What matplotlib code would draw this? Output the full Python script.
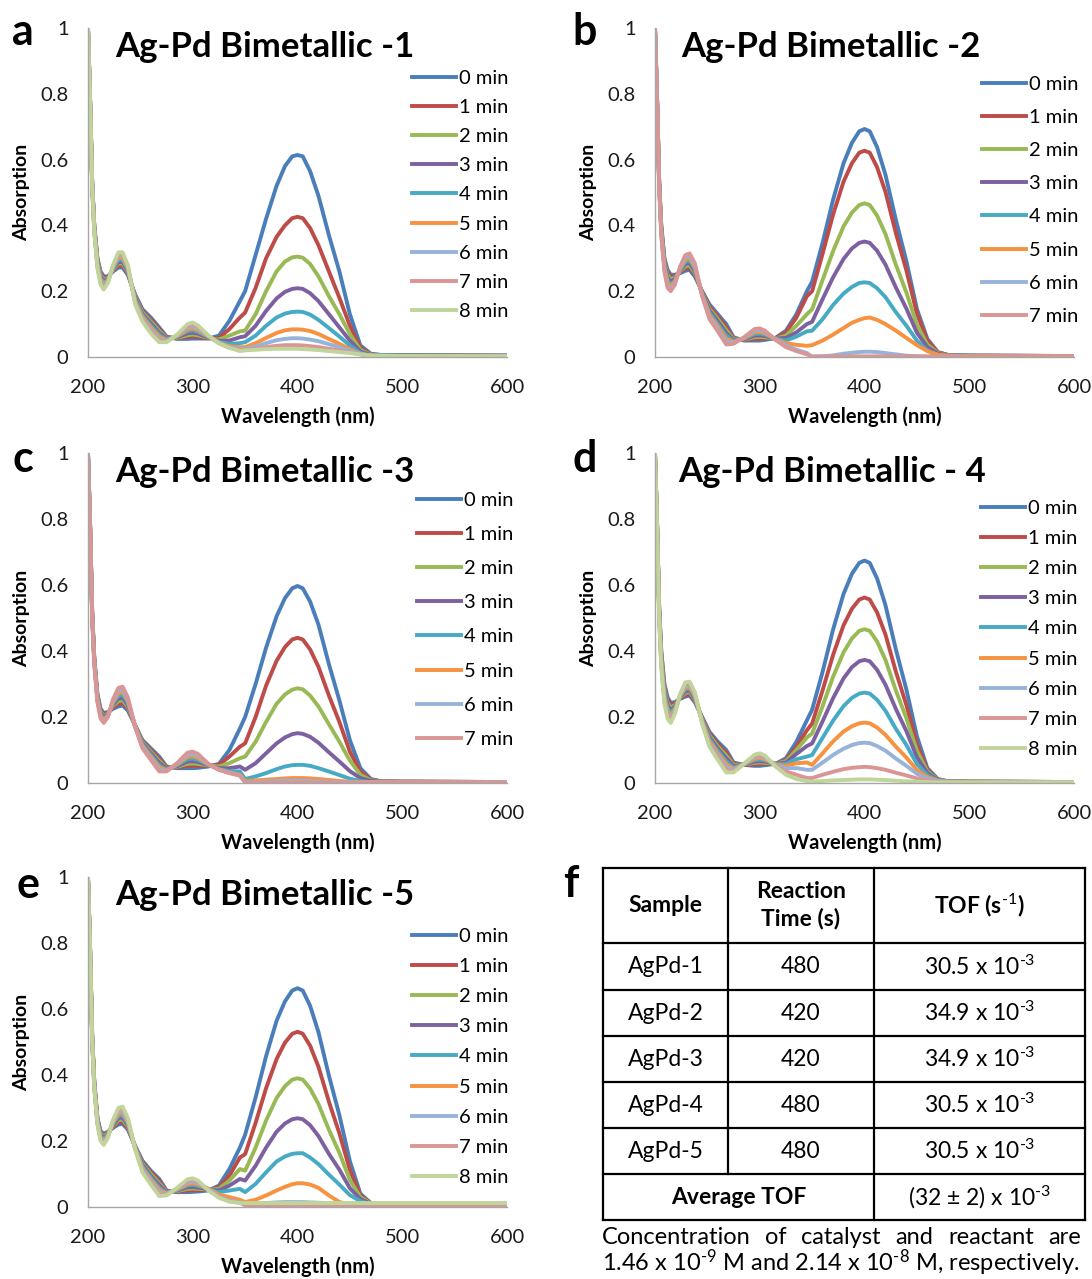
import matplotlib
matplotlib.use("Agg")
import matplotlib.pyplot as plt

plt.rcParams["font.family"] = ["Lato", "DejaVu Sans"]
plt.rcParams["mathtext.fontset"] = "custom"
plt.rcParams["mathtext.rm"] = "Lato"
plt.rcParams["mathtext.bf"] = "Lato:bold"
plt.rcParams["mathtext.it"] = "Lato:italic"

# wavelength grids (nm): UV part below the lamp switch, visible part above
WL_UV = [200, 202, 204, 206, 209, 212, 215, 219, 224, 229, 233, 238, 245,
         252, 260, 268, 275, 285, 295, 300, 305, 315, 325, 335, 345]
WL_VIS = [350, 360, 370, 380, 388, 395, 400, 405, 412, 420, 430, 440, 450,
          460, 470, 480, 500, 600]

# ---- Ag-Pd Bimetallic -1 (0..8 min)
P1_UV = [
    [1.0, 0.78, 0.53, 0.40, 0.30, 0.26, 0.245, 0.245, 0.26, 0.272, 0.272, 0.25, 0.19, 0.145, 0.12, 0.09, 0.062, 0.055, 0.055, 0.056, 0.056, 0.056, 0.065, 0.11, 0.17],
    [1.0, 0.78, 0.53, 0.398, 0.296, 0.255, 0.24, 0.243, 0.263, 0.278, 0.278, 0.254, 0.186, 0.14, 0.114, 0.084, 0.06, 0.057, 0.061, 0.062, 0.061, 0.057, 0.058, 0.085, 0.12],
    [1.0, 0.78, 0.53, 0.395, 0.293, 0.25, 0.235, 0.24, 0.265, 0.284, 0.284, 0.258, 0.183, 0.136, 0.108, 0.079, 0.058, 0.058, 0.066, 0.068, 0.066, 0.058, 0.053, 0.065, 0.078],
    [1.0, 0.78, 0.53, 0.393, 0.289, 0.245, 0.23, 0.238, 0.268, 0.289, 0.289, 0.261, 0.179, 0.131, 0.102, 0.073, 0.056, 0.06, 0.072, 0.074, 0.071, 0.059, 0.049, 0.05, 0.06],
    [1.0, 0.78, 0.52, 0.39, 0.285, 0.24, 0.225, 0.235, 0.27, 0.295, 0.295, 0.265, 0.175, 0.127, 0.096, 0.068, 0.054, 0.062, 0.078, 0.081, 0.076, 0.061, 0.046, 0.04, 0.042],
    [1.0, 0.78, 0.52, 0.388, 0.281, 0.235, 0.22, 0.233, 0.273, 0.301, 0.301, 0.269, 0.171, 0.122, 0.09, 0.062, 0.051, 0.063, 0.083, 0.087, 0.081, 0.062, 0.044, 0.033, 0.03],
    [1.0, 0.78, 0.52, 0.385, 0.278, 0.23, 0.215, 0.23, 0.275, 0.307, 0.307, 0.273, 0.168, 0.117, 0.084, 0.056, 0.049, 0.065, 0.089, 0.093, 0.086, 0.063, 0.043, 0.03, 0.025],
    [1.0, 0.78, 0.52, 0.383, 0.274, 0.225, 0.21, 0.228, 0.278, 0.312, 0.312, 0.276, 0.164, 0.113, 0.078, 0.051, 0.047, 0.066, 0.094, 0.099, 0.091, 0.064, 0.042, 0.028, 0.022],
    [1.0, 0.78, 0.52, 0.38, 0.27, 0.22, 0.205, 0.225, 0.28, 0.318, 0.318, 0.28, 0.16, 0.108, 0.072, 0.045, 0.045, 0.068, 0.1, 0.105, 0.096, 0.065, 0.042, 0.028, 0.018],
]
P1_VIS = [
    [0.20, 0.31, 0.42, 0.52, 0.58, 0.61, 0.614, 0.61, 0.565, 0.49, 0.37, 0.26, 0.13, 0.035, 0.01, 0.006, 0.005, 0.004],
    [0.135, 0.21, 0.30, 0.365, 0.40, 0.422, 0.426, 0.422, 0.392, 0.34, 0.26, 0.18, 0.095, 0.028, 0.008, 0.006, 0.005, 0.004],
    [0.08, 0.13, 0.20, 0.26, 0.29, 0.303, 0.305, 0.302, 0.283, 0.245, 0.185, 0.13, 0.07, 0.022, 0.007, 0.006, 0.005, 0.004],
    [0.063, 0.095, 0.14, 0.178, 0.198, 0.207, 0.209, 0.207, 0.194, 0.17, 0.13, 0.09, 0.05, 0.017, 0.006, 0.005, 0.005, 0.004],
    [0.045, 0.065, 0.095, 0.12, 0.132, 0.137, 0.138, 0.137, 0.129, 0.113, 0.088, 0.062, 0.035, 0.013, 0.005, 0.005, 0.004, 0.004],
    [0.03, 0.042, 0.058, 0.073, 0.081, 0.084, 0.084, 0.083, 0.079, 0.07, 0.055, 0.04, 0.024, 0.01, 0.004, 0.003, 0.003, 0.002],
    [0.025, 0.032, 0.042, 0.051, 0.055, 0.057, 0.057, 0.056, 0.053, 0.048, 0.039, 0.03, 0.019, 0.009, 0.004, 0.003, 0.003, 0.002],
    [0.022, 0.026, 0.03, 0.034, 0.036, 0.036, 0.036, 0.035, 0.033, 0.03, 0.025, 0.02, 0.014, 0.008, 0.004, 0.003, 0.003, 0.002],
    [0.02, 0.022, 0.024, 0.025, 0.025, 0.025, 0.025, 0.024, 0.023, 0.021, 0.018, 0.015, 0.012, 0.008, 0.005, 0.004, 0.003, 0.002],
]

# ---- Ag-Pd Bimetallic -2 (0..7 min)
P2_UV = [
    [1.0, 0.78, 0.53, 0.40, 0.30, 0.265, 0.25, 0.25, 0.255, 0.262, 0.265, 0.245, 0.2, 0.16, 0.13, 0.1, 0.06, 0.05, 0.05, 0.05, 0.052, 0.058, 0.08, 0.13, 0.2],
    [1.0, 0.78, 0.53, 0.396, 0.294, 0.257, 0.243, 0.246, 0.258, 0.269, 0.272, 0.251, 0.198, 0.154, 0.123, 0.091, 0.057, 0.051, 0.055, 0.055, 0.056, 0.057, 0.075, 0.12, 0.185],
    [1.0, 0.78, 0.53, 0.391, 0.289, 0.249, 0.236, 0.241, 0.261, 0.276, 0.279, 0.256, 0.196, 0.147, 0.115, 0.082, 0.054, 0.053, 0.06, 0.061, 0.06, 0.056, 0.065, 0.095, 0.13],
    [1.0, 0.78, 0.53, 0.387, 0.283, 0.241, 0.229, 0.237, 0.264, 0.283, 0.286, 0.262, 0.194, 0.141, 0.108, 0.073, 0.051, 0.054, 0.065, 0.066, 0.064, 0.056, 0.058, 0.075, 0.1],
    [1.0, 0.78, 0.52, 0.383, 0.277, 0.234, 0.221, 0.233, 0.266, 0.289, 0.294, 0.268, 0.191, 0.134, 0.1, 0.065, 0.049, 0.056, 0.07, 0.071, 0.068, 0.055, 0.05, 0.062, 0.078],
    [1.0, 0.78, 0.52, 0.379, 0.271, 0.226, 0.214, 0.229, 0.269, 0.296, 0.301, 0.274, 0.189, 0.128, 0.093, 0.056, 0.046, 0.057, 0.075, 0.076, 0.072, 0.055, 0.042, 0.037, 0.034],
    [1.0, 0.78, 0.52, 0.374, 0.266, 0.218, 0.207, 0.224, 0.272, 0.303, 0.308, 0.279, 0.187, 0.121, 0.085, 0.047, 0.043, 0.059, 0.08, 0.082, 0.076, 0.054, 0.035, 0.022, 0.012],
    [1.0, 0.78, 0.52, 0.37, 0.26, 0.21, 0.2, 0.22, 0.275, 0.31, 0.315, 0.285, 0.185, 0.115, 0.078, 0.038, 0.04, 0.06, 0.085, 0.087, 0.08, 0.052, 0.03, 0.018, 0.008],
]
P2_VIS = [
    [0.229, 0.347, 0.478, 0.589, 0.651, 0.686, 0.693, 0.686, 0.638, 0.554, 0.416, 0.291, 0.146, 0.055, 0.015, 0.006, 0.004, 0.003],
    [0.2, 0.314, 0.433, 0.533, 0.589, 0.621, 0.627, 0.621, 0.577, 0.502, 0.376, 0.263, 0.132, 0.05, 0.014, 0.006, 0.004, 0.003],
    [0.145, 0.234, 0.322, 0.397, 0.439, 0.462, 0.467, 0.462, 0.43, 0.374, 0.28, 0.196, 0.098, 0.038, 0.012, 0.005, 0.004, 0.003],
    [0.107, 0.176, 0.242, 0.298, 0.33, 0.347, 0.351, 0.347, 0.323, 0.281, 0.211, 0.147, 0.074, 0.03, 0.01, 0.005, 0.004, 0.003],
    [0.08, 0.115, 0.158, 0.193, 0.213, 0.225, 0.227, 0.225, 0.209, 0.182, 0.136, 0.095, 0.05, 0.02, 0.007, 0.005, 0.004, 0.003],
    [0.036, 0.05, 0.068, 0.088, 0.104, 0.113, 0.118, 0.12, 0.113, 0.1, 0.08, 0.058, 0.036, 0.018, 0.007, 0.004, 0.003, 0.003],
    [0.0, 0.002, 0.005, 0.01, 0.013, 0.015, 0.016, 0.016, 0.015, 0.012, 0.008, 0.004, 0.002, 0.001, 0.001, 0.001, 0.001, 0.001],
    [0.002, 0.002, 0.002, 0.002, 0.002, 0.002, 0.002, 0.002, 0.002, 0.002, 0.002, 0.002, 0.002, 0.002, 0.002, 0.002, 0.002, 0.002],
]

# ---- Ag-Pd Bimetallic -3 (0..7 min)
P3_UV = [
    [1.0, 0.78, 0.52, 0.38, 0.27, 0.225, 0.212, 0.215, 0.225, 0.232, 0.235, 0.22, 0.175, 0.13, 0.105, 0.08, 0.05, 0.045, 0.045, 0.045, 0.046, 0.05, 0.058, 0.1, 0.165],
    [1.0, 0.78, 0.52, 0.377, 0.266, 0.221, 0.208, 0.213, 0.229, 0.24, 0.243, 0.226, 0.174, 0.126, 0.1, 0.074, 0.048, 0.047, 0.052, 0.052, 0.052, 0.052, 0.055, 0.08, 0.11],
    [1.0, 0.78, 0.51, 0.374, 0.263, 0.216, 0.203, 0.211, 0.234, 0.248, 0.251, 0.231, 0.174, 0.123, 0.095, 0.067, 0.046, 0.049, 0.058, 0.059, 0.058, 0.053, 0.05, 0.06, 0.075],
    [1.0, 0.78, 0.51, 0.371, 0.259, 0.212, 0.199, 0.209, 0.238, 0.256, 0.259, 0.237, 0.173, 0.119, 0.09, 0.061, 0.044, 0.051, 0.065, 0.066, 0.064, 0.054, 0.045, 0.045, 0.05],
    [1.0, 0.78, 0.51, 0.369, 0.256, 0.208, 0.195, 0.206, 0.242, 0.264, 0.268, 0.243, 0.172, 0.116, 0.085, 0.054, 0.041, 0.054, 0.072, 0.074, 0.07, 0.055, 0.042, 0.036, 0.035],
    [1.0, 0.78, 0.51, 0.366, 0.252, 0.204, 0.191, 0.204, 0.246, 0.272, 0.276, 0.249, 0.171, 0.112, 0.08, 0.048, 0.039, 0.056, 0.079, 0.081, 0.076, 0.056, 0.041, 0.032, 0.025],
    [1.0, 0.78, 0.5, 0.363, 0.249, 0.199, 0.186, 0.202, 0.251, 0.28, 0.284, 0.254, 0.171, 0.109, 0.075, 0.041, 0.037, 0.058, 0.085, 0.088, 0.082, 0.057, 0.04, 0.031, 0.023],
    [1.0, 0.78, 0.5, 0.36, 0.245, 0.195, 0.182, 0.2, 0.255, 0.288, 0.292, 0.26, 0.17, 0.105, 0.07, 0.035, 0.035, 0.06, 0.092, 0.095, 0.088, 0.058, 0.04, 0.03, 0.022],
]
P3_VIS = [
    [0.2, 0.3, 0.41, 0.505, 0.56, 0.59, 0.597, 0.59, 0.55, 0.48, 0.36, 0.25, 0.13, 0.045, 0.012, 0.005, 0.004, 0.003],
    [0.12, 0.2, 0.295, 0.37, 0.412, 0.435, 0.44, 0.435, 0.405, 0.352, 0.265, 0.185, 0.095, 0.035, 0.01, 0.005, 0.004, 0.003],
    [0.08, 0.125, 0.185, 0.24, 0.268, 0.283, 0.287, 0.284, 0.265, 0.232, 0.178, 0.125, 0.068, 0.025, 0.008, 0.005, 0.004, 0.003],
    [0.04, 0.06, 0.09, 0.12, 0.138, 0.148, 0.151, 0.149, 0.14, 0.122, 0.093, 0.065, 0.036, 0.015, 0.006, 0.004, 0.004, 0.003],
    [0.012, 0.02, 0.03, 0.042, 0.05, 0.054, 0.055, 0.055, 0.052, 0.045, 0.035, 0.024, 0.013, 0.006, 0.003, 0.003, 0.003, 0.003],
    [0.006, 0.008, 0.01, 0.012, 0.014, 0.015, 0.015, 0.015, 0.014, 0.012, 0.009, 0.006, 0.004, 0.003, 0.003, 0.003, 0.003, 0.003],
    [0.003, 0.004, 0.005, 0.006, 0.007, 0.007, 0.007, 0.007, 0.006, 0.005, 0.004, 0.003, 0.003, 0.002, 0.002, 0.002, 0.002, 0.002],
    [0.002, 0.002, 0.002, 0.002, 0.002, 0.002, 0.002, 0.002, 0.002, 0.002, 0.002, 0.002, 0.002, 0.002, 0.002, 0.002, 0.002, 0.002],
]

# ---- Ag-Pd Bimetallic - 4 (0..8 min)
P4_UV = [
    [1.0, 0.78, 0.53, 0.40, 0.30, 0.26, 0.243, 0.245, 0.255, 0.262, 0.265, 0.245, 0.2, 0.155, 0.125, 0.1, 0.062, 0.055, 0.052, 0.052, 0.054, 0.058, 0.075, 0.125, 0.19],
    [1.0, 0.78, 0.53, 0.394, 0.293, 0.252, 0.235, 0.241, 0.257, 0.267, 0.27, 0.249, 0.198, 0.149, 0.118, 0.092, 0.058, 0.055, 0.056, 0.057, 0.058, 0.058, 0.07, 0.11, 0.16],
    [1.0, 0.78, 0.52, 0.388, 0.285, 0.244, 0.228, 0.236, 0.259, 0.273, 0.276, 0.253, 0.195, 0.144, 0.111, 0.083, 0.055, 0.056, 0.061, 0.062, 0.061, 0.058, 0.066, 0.1, 0.138],
    [1.0, 0.78, 0.52, 0.381, 0.278, 0.236, 0.22, 0.232, 0.261, 0.278, 0.281, 0.256, 0.193, 0.138, 0.104, 0.075, 0.051, 0.056, 0.065, 0.066, 0.065, 0.058, 0.062, 0.088, 0.112],
    [1.0, 0.78, 0.52, 0.375, 0.27, 0.228, 0.213, 0.228, 0.263, 0.284, 0.286, 0.26, 0.19, 0.133, 0.098, 0.066, 0.047, 0.057, 0.069, 0.071, 0.069, 0.057, 0.058, 0.072, 0.08],
    [1.0, 0.78, 0.51, 0.369, 0.263, 0.219, 0.205, 0.223, 0.264, 0.289, 0.291, 0.264, 0.188, 0.127, 0.091, 0.058, 0.043, 0.057, 0.073, 0.076, 0.072, 0.056, 0.052, 0.06, 0.062],
    [1.0, 0.78, 0.51, 0.363, 0.255, 0.211, 0.197, 0.219, 0.266, 0.294, 0.297, 0.268, 0.185, 0.121, 0.084, 0.049, 0.04, 0.057, 0.078, 0.081, 0.076, 0.055, 0.045, 0.045, 0.04],
    [1.0, 0.78, 0.5, 0.356, 0.248, 0.203, 0.19, 0.214, 0.268, 0.3, 0.302, 0.271, 0.183, 0.116, 0.077, 0.041, 0.036, 0.058, 0.082, 0.085, 0.079, 0.053, 0.035, 0.025, 0.015],
    [1.0, 0.78, 0.5, 0.35, 0.24, 0.195, 0.182, 0.21, 0.27, 0.305, 0.307, 0.275, 0.18, 0.11, 0.07, 0.032, 0.032, 0.058, 0.086, 0.09, 0.083, 0.05, 0.025, 0.012, 0.006],
]
P4_VIS = [
    [0.222, 0.337, 0.465, 0.573, 0.634, 0.667, 0.674, 0.667, 0.62, 0.539, 0.404, 0.283, 0.142, 0.045, 0.012, 0.005, 0.004, 0.003],
    [0.18, 0.281, 0.388, 0.478, 0.528, 0.556, 0.562, 0.556, 0.517, 0.45, 0.337, 0.236, 0.118, 0.04, 0.011, 0.005, 0.004, 0.003],
    [0.15, 0.233, 0.322, 0.396, 0.438, 0.461, 0.466, 0.461, 0.429, 0.373, 0.28, 0.196, 0.098, 0.035, 0.01, 0.005, 0.004, 0.003],
    [0.12, 0.187, 0.257, 0.317, 0.351, 0.369, 0.373, 0.369, 0.343, 0.298, 0.224, 0.157, 0.078, 0.03, 0.009, 0.005, 0.004, 0.003],
    [0.085, 0.137, 0.189, 0.233, 0.258, 0.271, 0.274, 0.271, 0.252, 0.219, 0.164, 0.115, 0.058, 0.024, 0.008, 0.005, 0.004, 0.003],
    [0.055, 0.09, 0.126, 0.156, 0.172, 0.181, 0.183, 0.181, 0.168, 0.146, 0.11, 0.077, 0.04, 0.018, 0.007, 0.004, 0.004, 0.003],
    [0.04, 0.062, 0.085, 0.104, 0.115, 0.121, 0.122, 0.121, 0.112, 0.098, 0.074, 0.052, 0.028, 0.014, 0.006, 0.004, 0.003, 0.003],
    [0.015, 0.025, 0.034, 0.042, 0.046, 0.048, 0.049, 0.048, 0.045, 0.04, 0.031, 0.023, 0.014, 0.008, 0.004, 0.003, 0.003, 0.002],
    [0.004, 0.006, 0.008, 0.009, 0.01, 0.011, 0.011, 0.011, 0.01, 0.009, 0.007, 0.005, 0.004, 0.003, 0.002, 0.002, 0.002, 0.002],
]

# ---- Ag-Pd Bimetallic -5 (0..8 min)
P5_UV = [
    [1.0, 0.78, 0.52, 0.38, 0.27, 0.23, 0.222, 0.228, 0.24, 0.25, 0.252, 0.235, 0.185, 0.14, 0.11, 0.085, 0.05, 0.045, 0.045, 0.046, 0.047, 0.05, 0.065, 0.115, 0.18],
    [1.0, 0.78, 0.52, 0.378, 0.268, 0.226, 0.218, 0.226, 0.243, 0.256, 0.259, 0.239, 0.184, 0.136, 0.105, 0.079, 0.048, 0.047, 0.05, 0.051, 0.051, 0.052, 0.06, 0.095, 0.15],
    [1.0, 0.78, 0.52, 0.375, 0.265, 0.223, 0.214, 0.224, 0.246, 0.263, 0.265, 0.244, 0.183, 0.131, 0.1, 0.072, 0.046, 0.048, 0.055, 0.056, 0.055, 0.053, 0.055, 0.08, 0.115],
    [1.0, 0.78, 0.51, 0.373, 0.263, 0.219, 0.209, 0.221, 0.249, 0.269, 0.272, 0.248, 0.181, 0.127, 0.094, 0.066, 0.044, 0.05, 0.06, 0.061, 0.059, 0.054, 0.05, 0.065, 0.085],
    [1.0, 0.78, 0.51, 0.37, 0.26, 0.215, 0.205, 0.219, 0.253, 0.275, 0.278, 0.253, 0.18, 0.123, 0.089, 0.059, 0.043, 0.052, 0.065, 0.067, 0.064, 0.055, 0.045, 0.05, 0.055],
    [1.0, 0.78, 0.51, 0.368, 0.258, 0.211, 0.201, 0.217, 0.256, 0.281, 0.285, 0.257, 0.179, 0.118, 0.084, 0.053, 0.041, 0.053, 0.069, 0.072, 0.068, 0.055, 0.038, 0.03, 0.022],
    [1.0, 0.78, 0.51, 0.365, 0.255, 0.208, 0.197, 0.215, 0.259, 0.288, 0.291, 0.261, 0.178, 0.114, 0.079, 0.046, 0.039, 0.055, 0.074, 0.077, 0.072, 0.054, 0.032, 0.02, 0.015],
    [1.0, 0.78, 0.5, 0.363, 0.253, 0.204, 0.192, 0.212, 0.262, 0.294, 0.298, 0.266, 0.176, 0.109, 0.073, 0.04, 0.037, 0.056, 0.079, 0.082, 0.076, 0.052, 0.03, 0.018, 0.013],
    [1.0, 0.78, 0.5, 0.36, 0.25, 0.2, 0.188, 0.21, 0.265, 0.3, 0.304, 0.27, 0.175, 0.105, 0.068, 0.033, 0.035, 0.058, 0.084, 0.087, 0.08, 0.05, 0.028, 0.016, 0.012],
]
P5_VIS = [
    [0.219, 0.332, 0.457, 0.564, 0.623, 0.656, 0.663, 0.656, 0.61, 0.53, 0.398, 0.278, 0.139, 0.04, 0.012, 0.008, 0.007, 0.006],
    [0.16, 0.255, 0.36, 0.448, 0.498, 0.525, 0.531, 0.525, 0.489, 0.425, 0.319, 0.223, 0.112, 0.035, 0.012, 0.008, 0.007, 0.006],
    [0.11, 0.18, 0.262, 0.33, 0.366, 0.386, 0.39, 0.386, 0.359, 0.312, 0.234, 0.164, 0.082, 0.03, 0.011, 0.008, 0.007, 0.006],
    [0.08, 0.125, 0.18, 0.228, 0.253, 0.266, 0.269, 0.266, 0.248, 0.215, 0.161, 0.113, 0.057, 0.024, 0.01, 0.008, 0.007, 0.006],
    [0.045, 0.07, 0.105, 0.138, 0.153, 0.161, 0.163, 0.163, 0.15, 0.13, 0.098, 0.068, 0.036, 0.018, 0.009, 0.007, 0.007, 0.006],
    [0.015, 0.022, 0.035, 0.05, 0.061, 0.069, 0.072, 0.072, 0.068, 0.058, 0.035, 0.015, 0.008, 0.006, 0.005, 0.005, 0.005, 0.005],
    [0.008, 0.01, 0.012, 0.014, 0.015, 0.015, 0.015, 0.015, 0.014, 0.013, 0.011, 0.01, 0.009, 0.008, 0.007, 0.006, 0.006, 0.005],
    [0.005, 0.005, 0.005, 0.005, 0.005, 0.005, 0.005, 0.005, 0.005, 0.005, 0.005, 0.004, 0.004, 0.004, 0.004, 0.004, 0.004, 0.004],
    [0.012, 0.012, 0.012, 0.012, 0.012, 0.012, 0.012, 0.012, 0.012, 0.012, 0.012, 0.012, 0.012, 0.012, 0.012, 0.012, 0.012, 0.012],
]

TIME_LABELS = ["0 min", "1 min", "2 min", "3 min", "4 min", "5 min", "6 min", "7 min", "8 min"]
PANEL_TITLES = ["Ag-Pd Bimetallic -1", "Ag-Pd Bimetallic -2", "Ag-Pd Bimetallic -3",
                "Ag-Pd Bimetallic - 4", "Ag-Pd Bimetallic -5"]
PANEL_LETTERS = ["a", "b", "c", "d", "e"]
X_TICKS = [200, 300, 400, 500, 600]
Y_TICKS = [0, 0.2, 0.4, 0.6, 0.8, 1]
Y_TICK_LABELS = ["0", "0.2", "0.4", "0.6", "0.8", "1"]

TABLE_SAMPLES = ["AgPd-1", "AgPd-2", "AgPd-3", "AgPd-4", "AgPd-5"]
TABLE_TIMES = ["480", "420", "420", "480", "480"]
TABLE_TOF = ["30.5", "34.9", "34.9", "30.5", "30.5"]

COLORS = ["#4A7EBB", "#BE4B48", "#98B954", "#7D60A0", "#46AAC5",
          "#F69240", "#97B3D9", "#DA9694", "#BFD59A"]

W, H = 1092, 1279
fig = plt.figure(figsize=(W / 100, H / 100), dpi=100)

# panel layout in pixels: (left, top, width, height)
RECTS = [(88, 28, 419, 329), (655, 28, 419, 329), (88, 453, 419, 330),
         (655, 453, 419, 330), (88, 877, 419, 330)]
LEGEND_POS = [(412, 77, 29), (982, 83, 33), (417, 499, 34), (981, 507, 30), (412, 935, 30)]
LETTER_POS = [(12, 45), (572, 45), (12, 472), (572, 472), (17, 898)]
TITLE_POS = [(115, 57), (681, 57), (115, 482), (678, 482), (115, 905)]

panels = [(P1_UV, P1_VIS), (P2_UV, P2_VIS), (P3_UV, P3_VIS), (P4_UV, P4_VIS), (P5_UV, P5_VIS)]

overlay = fig.add_axes([0, 0, 1, 1], zorder=5)
overlay.set_xlim(0, W)
overlay.set_ylim(H, 0)
overlay.set_axis_off()
overlay.patch.set_alpha(0)

LEG_FS = 14.5
for i, (uv, vis) in enumerate(panels):
    left, top, width, height = RECTS[i]
    ax = fig.add_axes([left / W, 1 - (top + height) / H, width / W, height / H])
    for k in range(len(uv)):
        ax.plot(WL_UV + WL_VIS, uv[k] + vis[k], color=COLORS[k], lw=2.8,
                label=TIME_LABELS[k], solid_joinstyle="round")
    ax.set_xlim(200, 600)
    ax.set_ylim(0, 1)
    ax.set_xticks(X_TICKS)
    ax.set_yticks(Y_TICKS)
    ax.set_yticklabels(Y_TICK_LABELS)
    ax.tick_params(length=0, labelsize=14.5, labelcolor="#1a1a1a")
    ax.tick_params(axis="x", pad=16)
    ax.tick_params(axis="y", pad=14)
    for side in ("top", "right"):
        ax.spines[side].set_visible(False)
    for side in ("left", "bottom"):
        ax.spines[side].set_color("#A6A6A6")
        ax.spines[side].set_linewidth(1.0)

    hx, first_y, pitch = LEGEND_POS[i]
    fs_px = LEG_FS * 100 / 72
    ax.legend(loc="upper left", bbox_to_anchor=(hx / W, 1 - (first_y - 7) / H),
              bbox_transform=fig.transFigure, frameon=False, fontsize=LEG_FS,
              handlelength=44 / fs_px, handletextpad=3 / fs_px,
              labelspacing=(pitch - 17) / fs_px, borderpad=0, borderaxespad=0)

    overlay.text(LETTER_POS[i][0], LETTER_POS[i][1], PANEL_LETTERS[i],
                 fontsize=31, fontweight="bold", va="baseline", ha="left")
    overlay.text(TITLE_POS[i][0], TITLE_POS[i][1], PANEL_TITLES[i],
                 fontsize=25, fontweight="bold", va="baseline", ha="left")
    overlay.text(left + width / 2, top + height + 60, "Wavelength (nm)",
                 fontsize=14.5, fontweight="bold", ha="center", va="center")
    overlay.text(left - 66, top + height / 2, "Absorption", rotation=90,
                 fontsize=14, fontweight="bold", ha="center", va="center")

# ---- panel f: TOF table
overlay.text(563, 897, "f", fontsize=31, fontweight="bold", va="baseline", ha="left")
T_LEFT, T_RIGHT = 603, 1085
COL_X = [603, 728, 874, 1085]
ROW_Y = [868, 943, 990, 1036, 1082, 1128, 1174, 1220]
for y in ROW_Y:
    overlay.plot([T_LEFT, T_RIGHT], [y, y], color="black", lw=1.6, solid_capstyle="projecting")
for x in (COL_X[0], COL_X[2], COL_X[3]):
    overlay.plot([x, x], [ROW_Y[0], ROW_Y[-1]], color="black", lw=1.6, solid_capstyle="projecting")
overlay.plot([COL_X[1], COL_X[1]], [ROW_Y[0], ROW_Y[-2]], color="black", lw=1.6)

cx = [(COL_X[j] + COL_X[j + 1]) / 2 for j in range(3)]
hy = (ROW_Y[0] + ROW_Y[1]) / 2
CELL_FS = 16.5
overlay.text(cx[0], hy, "Sample", fontsize=16.5, fontweight="bold", ha="center", va="center")
overlay.text(cx[1], hy, "Reaction\nTime (s)", fontsize=16.5, fontweight="bold",
             ha="center", va="center", linespacing=1.3)
overlay.text(cx[2], hy, r"TOF (s$^{\text{-1}}$)", fontsize=16.5, fontweight="bold",
             ha="center", va="center")
for r in range(5):
    ry = (ROW_Y[r + 1] + ROW_Y[r + 2]) / 2
    overlay.text(cx[0], ry, TABLE_SAMPLES[r], fontsize=CELL_FS, ha="center", va="center")
    overlay.text(cx[1], ry, TABLE_TIMES[r], fontsize=CELL_FS, ha="center", va="center")
    overlay.text(cx[2], ry, TABLE_TOF[r] + r" x 10$^{\text{-3}}$", fontsize=CELL_FS,
                 ha="center", va="center")
ay = (ROW_Y[-2] + ROW_Y[-1]) / 2
overlay.text((COL_X[0] + COL_X[2]) / 2, ay, "Average TOF", fontsize=16.5, fontweight="bold",
             ha="center", va="center")
overlay.text(cx[2], ay, r"(32 ± 2) x 10$^{\text{-3}}$", fontsize=CELL_FS, ha="center", va="center")

# caption, first line justified between the table edges
CAP_FS = 17
words = ["Concentration", "of", "catalyst", "and", "reactant", "are"]
fig.canvas.draw()
renderer = fig.canvas.get_renderer()
word_artists = [overlay.text(0, 1244, w, fontsize=CAP_FS, va="baseline", ha="left") for w in words]
widths = []
inv = overlay.transData.inverted()
for t in word_artists:
    bb = t.get_window_extent(renderer)
    x0 = inv.transform((bb.x0, bb.y0))[0]
    x1 = inv.transform((bb.x1, bb.y0))[0]
    widths.append(x1 - x0)
line_left, line_right = 602, 1081
gap = (line_right - line_left - sum(widths)) / (len(words) - 1)
x = line_left
for t, w in zip(word_artists, widths):
    t.set_x(x)
    x += w + gap
overlay.text(602, 1271, r"1.46 x 10$^{\text{-9}}$ M and 2.14 x 10$^{\text{-8}}$ M, respectively.",
             fontsize=CAP_FS, va="baseline", ha="left")

fig.savefig("out.png", dpi=100)
